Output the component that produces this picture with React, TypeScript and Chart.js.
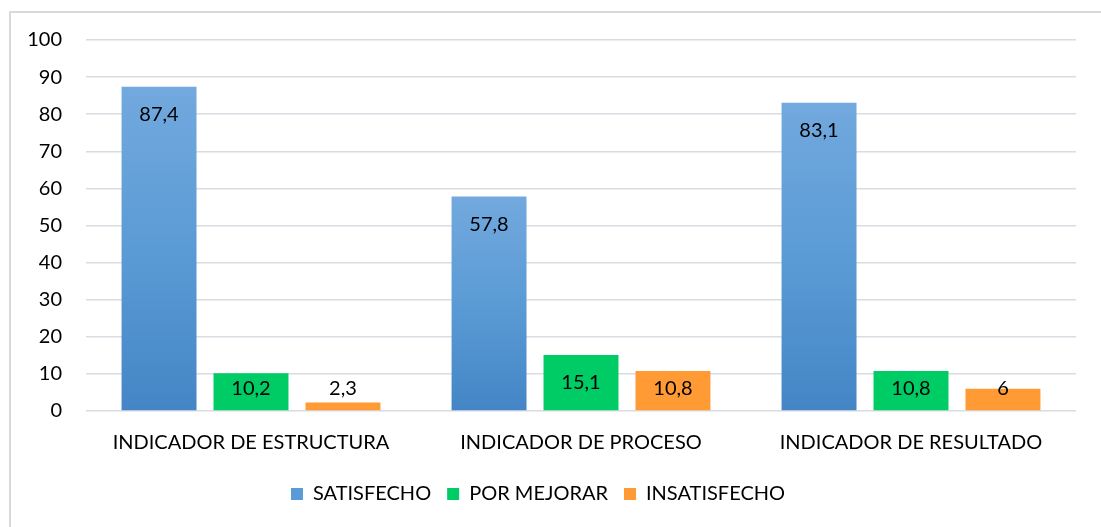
import React, { useEffect, useRef } from "react";
import { Chart, registerables } from "chart.js";

Chart.register(...registerables);

const categories = ["INDICADOR DE ESTRUCTURA", "INDICADOR DE PROCESO", "INDICADOR DE RESULTADO"];
const satisfecho = [87.4, 57.8, 83.1];
const porMejorar = [10.2, 15.1, 10.8];
const insatisfecho = [2.3, 10.8, 6];
const seriesNames = ["SATISFECHO", "POR MEJORAR", "INSATISFECHO"];
const yTicks = [0, 10, 20, 30, 40, 50, 60, 70, 80, 90, 100];

const FONT = "Lato, 'Open Sans', sans-serif";

const labelPlugin = {
  id: "barLabels",
  afterDatasetsDraw(chart: any) {
    const ctx = chart.ctx;
    ctx.save();
    ctx.font = `20px ${FONT}`;
    ctx.fillStyle = "#000";
    ctx.textAlign = "center";
    ctx.textBaseline = "middle";
    chart.data.datasets.forEach((ds: any, i: number) => {
      const meta = chart.getDatasetMeta(i);
      meta.data.forEach((el: any, j: number) => {
        const v = ds.data[j];
        const y = Math.min(el.y + 28, el.base - 22);
        ctx.fillText(String(v).replace(".", ","), el.x, y);
      });
    });
    ctx.restore();
  },
};

export default function App() {
  const ref = useRef<HTMLCanvasElement>(null);
  useEffect(() => {
    document.body.style.margin = "0";
    const blueGrad = (c: any) => {
      const chart = c.chart;
      const ys = chart.scales?.y;
      if (!ys || c.raw == null) return "#5b9bd5";
      const top = ys.getPixelForValue(c.raw);
      const bot = ys.getPixelForValue(0);
      const g = chart.ctx.createLinearGradient(0, top, 0, bot);
      g.addColorStop(0, "#72a9de");
      g.addColorStop(0.5, "#5b9bd5");
      g.addColorStop(1, "#4485c6");
      return g;
    };
    const chart = new Chart(ref.current!, {
      type: "bar",
      data: {
        labels: categories,
        datasets: [
          { label: seriesNames[0], data: satisfecho, backgroundColor: blueGrad as any },
          { label: seriesNames[1], data: porMejorar, backgroundColor: "#00cc66" },
          { label: seriesNames[2], data: insatisfecho, backgroundColor: "#ff9a35" },
        ],
      },
      options: {
        animation: false,
        responsive: false,
        datasets: { bar: { categoryPercentage: 0.836, barPercentage: 0.815 } },
        layout: { padding: { left: 0, right: 25, top: 40, bottom: 13 } },
        plugins: {
          tooltip: { enabled: false },
          legend: {
            position: "bottom",
            labels: {
              font: { family: FONT, size: 20 },
              color: "#000",
              boxWidth: 12,
              boxHeight: 12,
              padding: 16,
              generateLabels: (chart: any) =>
                seriesNames.map((n, i) => ({
                  text: n,
                  fillStyle: ["#5b9bd5", "#00cc66", "#ff9a35"][i],
                  strokeStyle: "transparent",
                  lineWidth: 0,
                  datasetIndex: i,
                  hidden: false,
                })),
            },
          },
        },
        scales: {
          x: {
            grid: { display: false, drawTicks: false },
            border: { display: false },
            ticks: { font: { family: FONT, size: 20 }, color: "#000", padding: 20 },
            afterFit: (s: any) => { s.height = 57; },
          },
          y: {
            min: 0,
            max: 100,
            afterBuildTicks: (s: any) => { s.ticks = yTicks.map((v) => ({ value: v })); },
            grid: { color: "#d9dce2", lineWidth: 1.5, drawTicks: false },
            border: { display: false },
            ticks: { font: { family: FONT, size: 20 }, color: "#000", padding: 24 },
            afterFit: (s: any) => { s.width = 86; },
          },
        },
      },
      plugins: [labelPlugin],
    });
    return () => chart.destroy();
  }, []);
  return (
    <div style={{ position: "relative", width: 1101, height: 527, overflow: "hidden", background: "#fff" }}>
      <div style={{ position: "absolute", left: 9, top: 11, width: 1200, height: 600, border: "2px solid #d9d9d9", boxSizing: "border-box" }} />
      <canvas ref={ref} width={1101} height={527} style={{ position: "absolute", left: 0, top: 0 }} />
    </div>
  );
}
